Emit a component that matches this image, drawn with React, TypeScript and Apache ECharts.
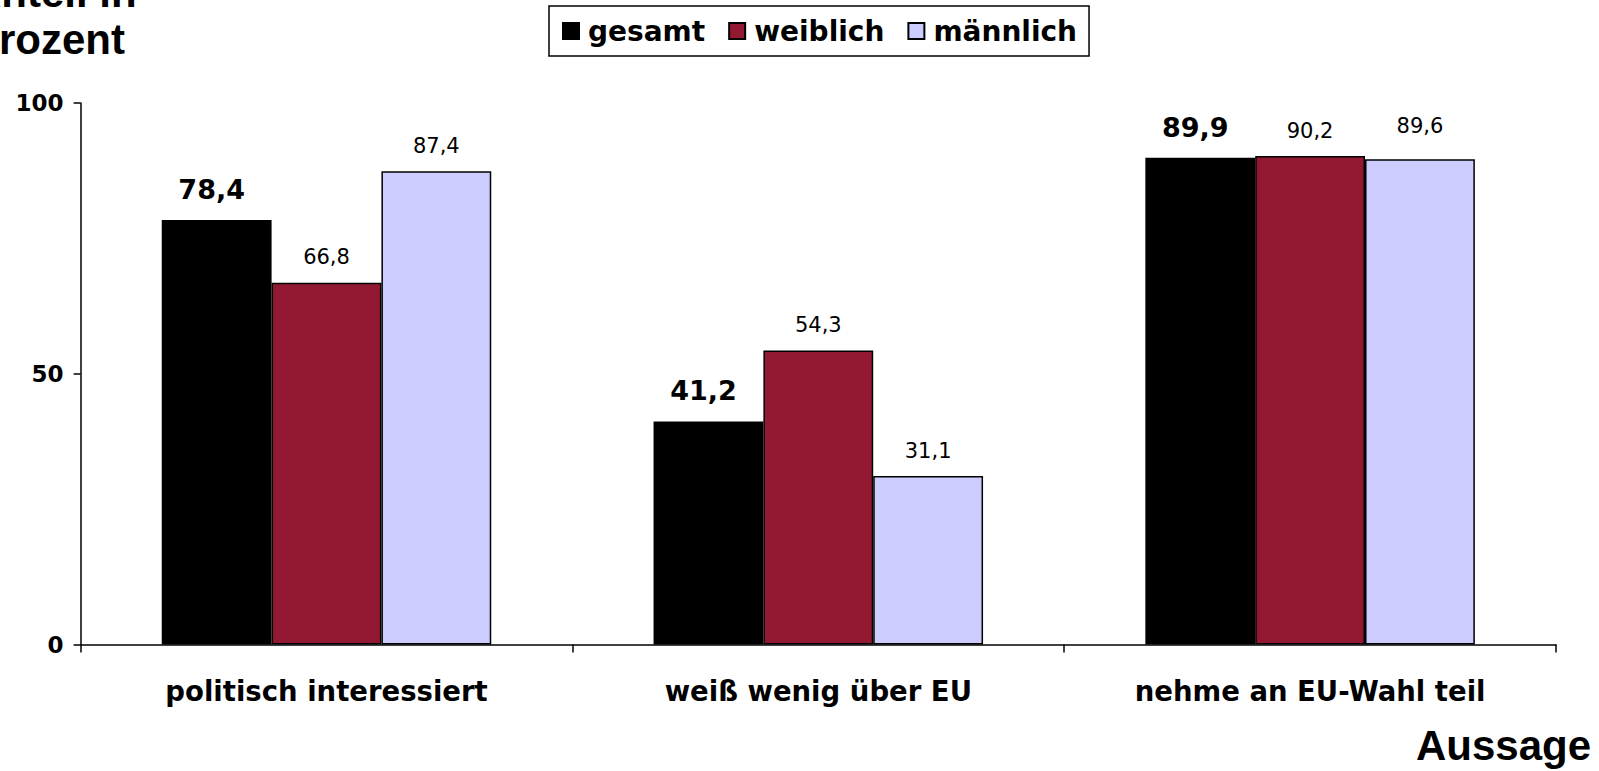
import React, { useEffect, useRef } from "react";
import * as echarts from "echarts";

const categories = ["politisch interessiert", "weiß wenig über EU", "nehme an EU-Wahl teil"];
const seriesNames = ["gesamt", "weiblich", "männlich"];
const gesamt = [78.4, 41.2, 89.9];
const weiblich = [66.8, 54.3, 90.2];
const maennlich = [87.4, 31.1, 89.6];
const yTicks = [0, 50, 100];
const yTitle = ["Anteil in", "Prozent"];
const xTitle = "Aussage";

const colors = ["#000000", "#931933", "#CCCCFF"];
const fmt = (v: number) => v.toFixed(1).replace(".", ",");

export default function App() {
  const ref = useRef<HTMLDivElement>(null);
  useEffect(() => {
    if (!ref.current) return;
    const chart = echarts.init(ref.current, null, { renderer: "svg" });
    const normalLabel = {
      show: true,
      position: "top",
      distance: 15,
      fontFamily: "DejaVu Sans",
      fontSize: 21,
      color: "#000",
      formatter: (p: any) => fmt(p.value),
    };
    const boldLabel = {
      ...normalLabel,
      fontWeight: "bold",
      fontSize: 27,
      distance: 17,
      offset: [-5, 0],
    };
    const mk = (name: string, data: number[], i: number, label: any) => ({
      name,
      type: "bar",
      data: data.map((v, k) =>
        name === "männlich" && k === 2
          ? { value: v, label: { distance: 23 } }
          : v
      ),
      barGap: "0%",
      barCategoryGap: "33%",
      itemStyle: { color: colors[i], borderColor: "#000", borderWidth: 1.5 },
      label,
    });
    chart.setOption({
      animation: false,
      legend: {
        left: 549,
        top: 6,
        padding: [11, 12, 11, 13],
        borderColor: "#000",
        borderWidth: 1.5,
        itemWidth: 16,
        itemHeight: 16,
        itemGap: 23,
        icon: "rect",
        textStyle: {
          fontFamily: "DejaVu Sans",
          fontWeight: "bold",
          fontSize: 28,
          color: "#000",
          padding: [0, 0, 0, 4],
        },
        data: seriesNames,
      },
      grid: { left: 80.6, right: 43, top: 103, bottom: 126.5, containLabel: false },
      xAxis: {
        type: "category",
        data: categories,
        axisLine: { lineStyle: { color: "#000", width: 1.5 } },
        axisTick: { show: true, length: 8, lineStyle: { color: "#000", width: 1.5 } },
        axisLabel: {
          margin: 32,
          fontFamily: "DejaVu Sans",
          fontWeight: "bold",
          fontSize: 27.5,
          color: "#000",
        },
      },
      yAxis: {
        type: "value",
        min: yTicks[0],
        max: yTicks[yTicks.length - 1],
        interval: yTicks[1] - yTicks[0],
        splitLine: { show: false },
        axisLine: { show: true, lineStyle: { color: "#000", width: 1.5 } },
        axisTick: { show: true, length: 7, lineStyle: { color: "#000", width: 1.5 } },
        axisLabel: {
          margin: 17,
          fontFamily: "DejaVu Sans",
          fontWeight: "bold",
          fontSize: 23,
          color: "#000",
        },
      },
      graphic: [
        {
          type: "text",
          x: -29,
          y: -8,
          style: {
            text: yTitle[0],
            font: "bold 42px 'Liberation Sans'",
            fill: "#000",
            verticalAlign: "middle",
          },
        },
        {
          type: "text",
          x: -29,
          y: 39,
          style: {
            text: yTitle[1],
            font: "bold 42px 'Liberation Sans'",
            fill: "#000",
            verticalAlign: "middle",
          },
        },
        {
          type: "text",
          x: 1591,
          y: 745,
          style: {
            text: xTitle,
            font: "bold 42px 'Liberation Sans'",
            fill: "#000",
            align: "right",
            verticalAlign: "middle",
          },
        },
      ],
      series: [
        mk(seriesNames[0], gesamt, 0, boldLabel),
        mk(seriesNames[1], weiblich, 1, normalLabel),
        mk(seriesNames[2], maennlich, 2, normalLabel),
      ],
    });
    return () => chart.dispose();
  }, []);
  return (
    <div
      ref={ref}
      style={{ position: "fixed", left: 0, top: 0, width: 1599, height: 771, background: "#fff" }}
    />
  );
}
